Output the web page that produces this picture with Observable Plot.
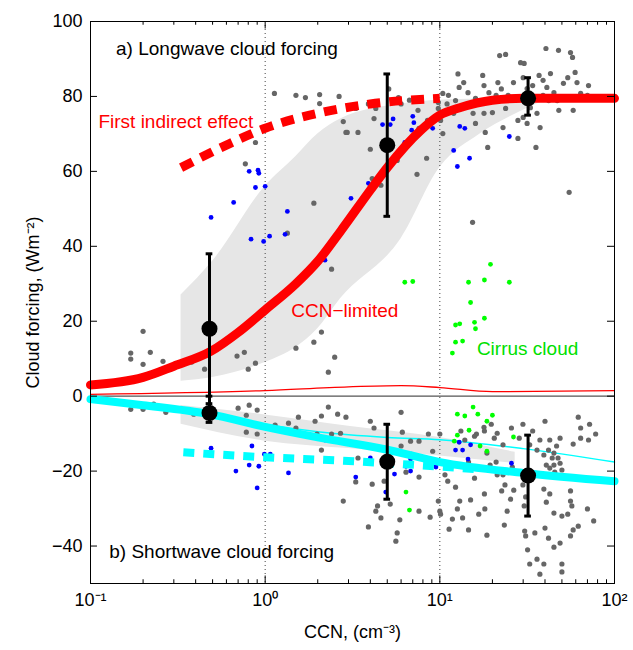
<!DOCTYPE html>
<html><head><meta charset="utf-8">
<script src="https://cdn.jsdelivr.net/npm/d3@7"></script>
<script src="https://cdn.jsdelivr.net/npm/@observablehq/plot@0.6"></script>
<style>body{margin:0;background:#fff}</style>
</head><body><div id="c"></div>
<script>
// curves [CCN, forcing]
const redThick=[[0.1,3],[0.2,5],[0.3,8],[0.49,12],[0.7,17],[1,23],[1.5,30],[2,36],[2.7,44],[4,55],[5,61],[7.8,71],[10,75],[13,77],[20,79],[30,79.5],[100,79.5]];
const redDash=[[0.33,61],[0.6,67],[1,71.5],[2,75.5],[4,78],[10,79.5]];
const redThin=[[0.1,0.5],[1,1.5],[3,2.5],[6,2.8],[10,2.3],[20,1.2],[100,1.5]];
const lwBandX=[0.33,0.5,1,1.5,2,2.7,6,10,17,29,40];
const lwLow=[4,5,9,13,18,26,42,61,70,76,79];
const lwHigh=[27,36,56,64,70,74,78,79,79.3,79.5,79.5];
const cyanThick=[[0.1,-0.8],[0.2,-2.4],[0.48,-4.8],[1,-8.2],[2,-11],[5,-14.3],[10,-17.6],[30,-20.5],[100,-22.7]];
const cyanThin=[[0.1,-0.8],[0.2,-2.3],[0.48,-4.6],[1,-7.5],[2,-9.5],[5,-11],[10,-11.6],[30,-14],[100,-17.6]];
const cyanDash=[[0.34,-15],[1,-16.3],[3,-17.3],[10,-18.8],[16,-19.5]];
const swBandX=[0.33,1,3,10,27];
const swLow=[-7.5,-12,-14,-16,-18];
const swHigh=[-2.5,-5,-8,-11,-15];
// error points
const errX=[0.48,5,32,0.48,5,32];
const errMean=[18,67,79.5,-4.5,-17.5,-21.2];
const errLo=[-2,48,75,-7,-27.5,-32];
const errHi=[38,86,85,0,-7.5,-10.4];
// scatter [CCN, forcing]
const grayPts=[[0.17,9.9],[0.17,11.5],[0.2,17.3],[0.2,8.5],[0.22,11.7],[0.26,9.3],[0.38,9.1],[0.45,7.2],[0.69,10.7],[0.76,11.7],[0.8,7.2],[0.88,8.8],[1.5,12.8],[1.9,14.4],[2.1,17.1],[2.5,10.4],[2.3,6.4],[2.4,33.9],[1.9,51.5],[1.34,43.5],[0.77,62],[0.88,67.7],[1.13,80.8],[1.5,80.3],[1.7,79.7],[2.05,80.5],[2.05,78.1],[2.65,80],[2.8,73.3],[2.95,70.4],
[2.9,70.4],[3.4,70.4],[3.3,76.8],[3.9,78],[4.3,76.8],[4.2,74.1],[5.1,82],[5.8,79.7],[6,78],[6.7,79],[7.5,76.3],[7.4,59.2],[8.4,63.5],[4,65.9],[4.1,58.1],[4.6,56.3],[5.7,62.9],[8.5,73.6],[9.8,78.4],[9.8,76.8],[7.6,71.5],
[10.4,80.8],[11.2,80.3],[12.7,86],[12.9,82.4],[13.7,83.7],[14.5,81],[12.3,78.9],[14.1,77.6],[16,79.5],[17.6,85.6],[17.9,82.9],[19.1,81],[20,79],[21.5,83.7],[22.5,82],[17.9,75.5],[16,72.8],[18.2,70.4],[18.8,66.4],[15.4,46.4],[10.4,70.1],[10.1,73.6],[23,71.7],[23.8,76.8],[22,90.9],[23.8,91.2],[26.4,83.7],[26.1,79.7],[28,73.6],[28,68.8],
[29,89],[30.4,88.8],[30,85],[31.6,82.1],[34,82.9],[37,85.6],[39,84.3],[41,82.4],[40.5,92.8],[47.8,92.3],[56,91.7],[57.5,90.4],[43,86.1],[45,81],[47,78.9],[51,83.5],[54,85],[59.5,86.4],[61,83.7],[64,80.8],[71,82.9],[70,80.3],[76,79.2],[33,77],[36,75.5],[37.5,71.7],[31.6,72.8],[30,74.4],[35.5,66.4],[55,54.4],[42,78.9],[39,80.3],[48,76.3],[58,76.3],[11,78],[12,75.5],[15.5,75.5],[20,75.7],[24.6,80.3],[21,80.3],
[0.17,-3.5],[0.2,-3.5],[0.23,-2.1],[0.27,-4.3],[0.39,-4.8],[0.7,-3.2],[0.81,-2.4],[0.78,-5.1],[0.9,-3.7],[0.78,-9.6],[0.9,-10.1],[1.14,-7.7],[1.36,-7.2],[1.5,-8.5],[1.55,-5.6],[1.93,-6.7],[2.1,-5.3],[2.3,-2.9],[2.6,-4.8],[2.9,-5.6],[1.98,-10.1],[2.4,-10.1],[2.7,-9.9],[2.1,-14.4],[2.8,-28],[3.4,-16.5],[3.3,-22.9],[4,-6.7],[4.2,-8.5],[4.1,-23.5],[4.4,-29.3],[4.3,-30.7],[3.9,-34.9],[4.6,-32.5],[4.8,-22.7],[5.2,-28.8],[6,-4.3],[6.1,-9.6],[6,-13.3],[6.8,-12],[7.6,-12],[6.4,-20.3],[7.6,-21.6],[5.9,-33],[5.7,-36.5],[5.6,-38.7],[7.6,-30.7],[8.8,-32.3],[8.6,-10.1],[9.1,-14.7],[10,-10.1],[9.8,-28],[10,-30.7],[10.1,-31.5],
[10.7,-21],[11.1,-22.7],[11.8,-32.8],[11.3,-35.5],[12.3,-24.3],[13,-28],[13.5,-32.5],[12.6,-30.1],[13.2,-9.3],[14.6,-17.6],[15,-27.7],[14.6,-35.7],[15.8,-21.9],[16.7,-31.5],[16.2,-10.1],[17.9,-8.3],[18.6,-15.2],[18,-26.1],[18.1,-30.1],[18.6,-37.1],[19.7,-7.5],[20.5,-11.2],[21.3,-21],[22.6,-25.3],[23.6,-23.7],[24.3,-30.7],[23.4,-34.4],[25.4,-27.5],[25.7,-8.5],[26,-18.9],[26.5,-25.1],[29.9,-7.5],[30.4,-29.3],[30.6,-36],[31,-37.3],[31.8,-41],[32.7,-44.8],[36,-43.5],[37.4,-47.5],[35,-36.5],[31,-26.9],[29.9,-23.7],[28.5,-11.2],[34,-9.3],[37.4,-11.7],[39.4,-15.7],[40.7,-18.4],[40,-6.7],[42.6,-11.7],[44,-16.5],[45,-18.4],[46.6,-13.3],[48.8,-11.2],[47.5,-16.5],[50,-19.7],[39.4,-24.8],[42.6,-26.1],[40.7,-28.3],[45,-31.2],[40,-35.2],[41.9,-37.9],[45,-40.3],[48.8,-39.2],[50,-44.8],[39.4,-44.8],[50,-46.9],[56,-25.3],[56,-28],[57,-29.3],[58,-35.7],[56,-37.3],[54,-31.5],[50,-32],[62,-5.6],[64,-8.5],[58,-12.8],[64,-11.2],[72,-7.5],[71,-11.7],[78,-10.1],[70,-30.1],[76,-33.3],[62,-34.7],
[32.7,-13],[36,-14.4],[41.9,-14.4],[45,-15.2],[48.8,-17.9],[42.6,-19.2],[45.5,-20.3],[18,-9.3],[15.8,-10.7],[13.9,-11.7],[21.3,-9.9],[23,-13],[19.4,-18.4],[21,-17.6],[23,-21]];
const bluePts=[[0.49,47.7],[0.66,51.7],[0.81,60],[0.91,60.3],[0.92,59.5],[0.88,55.7],[1.0,56],[0.83,41.9],[0.98,41.3],[1.06,42.7],[1.3,43.2],[1.34,49.3],[2.2,36.3],[3.1,52.8],[3.9,56.8],[4.7,72.5],[5.2,72.5],[5.4,74],[7.0,74.7],[7.1,73],[6.9,71],[6.3,67.7],[9.1,71.5],[13,72],[13.9,71.5],[12,65.6],[12.6,61.3],[14.8,63.5],[25,69.3],
[0.49,-13.9],[0.84,-13.3],[0.68,-20],[0.81,-18.4],[0.92,-18.7],[0.9,-24.5],[0.99,-15.5],[1.04,-16.3],[1.07,-15.5],[1.32,-9.6],[1.36,-20.5],[2.2,-11.7],[3.3,-21.6],[4.0,-16.5],[4.9,-25.6],[5.5,-20.8],[6.4,-18.7],[6.8,-20],[6.8,-16.8],[6.9,-15.5],[9.5,-18.9],[12.3,-14.4],[12.9,-12.3],[13.5,-14.4],[15,-13],[14.5,-16.8],[25.7,-17.9]];
const greenPts=[[6.3,30.4],[7,30.6],[14.6,30.4],[18,31],[19.5,35.2],[25,30.4],[15,25],[12.3,19],[13,19.3],[15.8,19.7],[18,20.8],[16,18],[12.3,14.4],[13.5,14.7],[11.8,11.5],
[12.6,-4.8],[13.9,-5.3],[15.5,-2.9],[16.5,-4.8],[20,-5.1],[18.6,-6.7],[14.7,-9.1],[12.6,-10.4],[12.1,-12],[17,-13.3],[18.6,-14.7],[26.4,-10.9],[6.4,-25.6],[6.7,-30.4]];
const xTicks=[0.1,1,10,100];
const xTickLabels=["10\u207B\u00B9","10\u2070","10\u00B9","10\u00B2"];
const yTicks=[-40,-20,0,20,40,60,80,100];
const minorX=[];for(const d of [0.1,1,10])for(let k=2;k<=9;k++)minorX.push(d*k);

const F="Liberation Sans, Arial, sans-serif";
const lwBand=lwBandX.map((x,i)=>({x,lo:lwLow[i],hi:lwHigh[i]}));
const swBand=swBandX.map((x,i)=>({x,lo:swLow[i],hi:swHigh[i]}));
const err=errX.map((x,i)=>({x,m:errMean[i],lo:errLo[i],hi:errHi[i]}));
const allX=xTicks.concat(minorX);
const capF=1.045, tkF=Math.pow(10,7/175);
const curve="monotone-x";
const chart=Plot.plot({
  width:633,height:650,marginLeft:90,marginRight:19,marginTop:21,marginBottom:67,
  style:{fontFamily:F,fontSize:"18px",background:"#fff"},
  x:{type:"log",domain:[0.1,100],ticks:xTicks,tickFormat:(d)=>xTickLabels[xTicks.indexOf(d)],tickSize:0,tickPadding:10,label:"CCN, (cm\u207B\u00B3)",labelAnchor:"center",labelArrow:"none",labelOffset:54},
  y:{domain:[-50,100],ticks:yTicks,tickSize:0,tickPadding:8,label:"Cloud forcing, (Wm\u207B\u00B2)",labelAnchor:"center",labelArrow:"none",labelOffset:64},
  marks:[
    Plot.areaY(lwBand,{x:"x",y1:"lo",y2:"hi",fill:"#e6e6e6",curve}),
    Plot.areaY(swBand,{x:"x",y1:"lo",y2:"hi",fill:"#e6e6e6",curve}),
    Plot.ruleX([1,10],{stroke:"#444",strokeWidth:1,strokeDasharray:"1,3"}),
    Plot.ruleY([0],{stroke:"#555",strokeWidth:1.2}),
    Plot.line(redThin,{x:d=>d[0],y:d=>d[1],stroke:"#ff0000",strokeWidth:1.3,curve}),
    Plot.line(cyanThin,{x:d=>d[0],y:d=>d[1],stroke:"#00ffff",strokeWidth:1.5,curve}),
    Plot.dot(grayPts,{x:d=>d[0],y:d=>d[1],r:2.6,fill:"#666",stroke:"none"}),
    Plot.dot(bluePts,{x:d=>d[0],y:d=>d[1],r:2.4,fill:"#0000ff",stroke:"none"}),
    Plot.dot(greenPts,{x:d=>d[0],y:d=>d[1],r:2.4,fill:"#00ff00",stroke:"none"}),
    Plot.line(redThick,{x:d=>d[0],y:d=>d[1],stroke:"#ff0000",strokeWidth:9,curve}),
    Plot.line(redDash,{x:d=>d[0],y:d=>d[1],stroke:"#ff0000",strokeWidth:9,strokeDasharray:"13,9",strokeLinecap:"butt",curve}),
    Plot.line(cyanThick,{x:d=>d[0],y:d=>d[1],stroke:"#00ffff",strokeWidth:8,curve}),
    Plot.line(cyanDash,{x:d=>d[0],y:d=>d[1],stroke:"#00ffff",strokeWidth:8,strokeDasharray:"11,9",strokeLinecap:"butt",curve}),
    Plot.ruleX(err,{x:"x",y1:"lo",y2:"hi",stroke:"#000",strokeWidth:3}),
    Plot.ruleY(err,{y:"lo",x1:d=>d.x/capF,x2:d=>d.x*capF,stroke:"#000",strokeWidth:3}),
    Plot.ruleY(err,{y:"hi",x1:d=>d.x/capF,x2:d=>d.x*capF,stroke:"#000",strokeWidth:3}),
    Plot.dot(err,{x:"x",y:"m",r:8,fill:"#000"}),
    Plot.text(["a) Longwave cloud forcing"],{x:0.14,y:92.8,text:d=>d,textAnchor:"start",fontSize:19,fill:"#000"}),
    Plot.text(["First indirect effect"],{x:0.111,y:73.3,text:d=>d,textAnchor:"start",fontSize:19,fill:"#ff0000"}),
    Plot.text(["CCN\u2212limited"],{x:1.41,y:22.7,text:d=>d,textAnchor:"start",fontSize:19,fill:"#ff0000"}),
    Plot.text(["Cirrus cloud"],{x:16.3,y:12.5,text:d=>d,textAnchor:"start",fontSize:19,fill:"#00e000"}),
    Plot.text(["b) Shortwave cloud forcing"],{x:0.128,y:-41.6,text:d=>d,textAnchor:"start",fontSize:19,fill:"#000"}),
    Plot.ruleX(allX,{x:d=>d,y1:-50,y2:d=>xTicks.includes(d)?-48:-49,stroke:"#000"}),
    Plot.ruleX(allX,{x:d=>d,y1:100,y2:d=>xTicks.includes(d)?98:99,stroke:"#000"}),
    Plot.ruleY(yTicks,{y:d=>d,x1:0.1,x2:0.1*tkF,stroke:"#000"}),
    Plot.ruleY(yTicks,{y:d=>d,x1:100/tkF,x2:100,stroke:"#000"}),
    Plot.frame({stroke:"#000"})
  ]
});
document.getElementById("c").appendChild(chart);
</script></body></html>
